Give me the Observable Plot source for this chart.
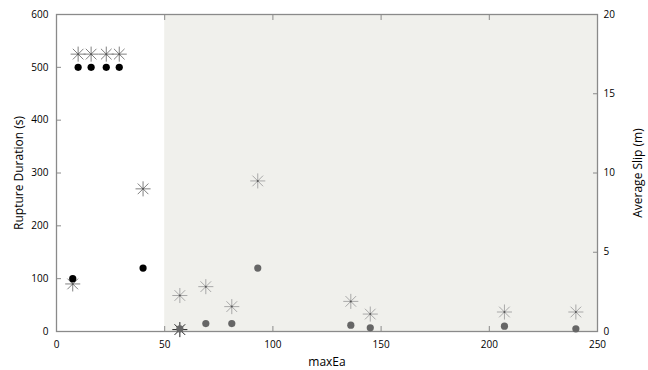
<!DOCTYPE html>
<html>
<head>
<meta charset="utf-8">
<script src="https://cdn.jsdelivr.net/npm/d3@7"></script>
<script src="https://cdn.jsdelivr.net/npm/@observablehq/plot@0.6"></script>
<style>
  html, body { margin: 0; padding: 0; background: #fff; }
</style>
</head>
<body>
<div id="chart"></div>
<script>
// Rupture duration (s) vs maxEa — dots (left axis)
const durX = [7.5, 10, 16, 23, 29, 40, 57, 69, 81, 93, 136, 145, 207, 240];
const durY = [100, 500, 500, 500, 500, 120, 5, 15, 15, 120, 12, 7, 10, 5];
// Average slip (m) vs maxEa — asterisks (right axis)
const slipX = [7.5, 10, 16, 23, 29, 40, 57, 57, 69, 81, 93, 136, 145, 207, 240];
const slipY = [3.0, 17.5, 17.5, 17.5, 17.5, 9.0, 2.27, 0.12, 2.83, 1.57, 9.5, 1.9, 1.1, 1.23, 1.23];
// Shaded range of maxEa
const shadeFrom = 50, shadeTo = 250;
// Axis ticks
const xTicks = [0, 50, 100, 150, 200, 250];
const leftTicks = [0, 100, 200, 300, 400, 500, 600];
const rightTicks = [0, 5, 10, 15, 20];
const leftMax = 600, rightMax = 20;
const k = leftMax / rightMax;

const durData = durX.map((x, i) => ({x, y: durY[i]}));
const slipData = slipX.map((x, i) => ({x, slip: slipY[i], y: slipY[i] * k}));

// 8-arm asterisk symbol
const asterisk8 = {
  draw(ctx, size) {
    const r = Math.sqrt(size) / 2;
    const d = r * Math.SQRT1_2;
    ctx.moveTo(-r, 0); ctx.lineTo(r, 0);
    ctx.moveTo(0, -r); ctx.lineTo(0, r);
    ctx.moveTo(-d, -d); ctx.lineTo(d, d);
    ctx.moveTo(-d, d); ctx.lineTo(d, -d);
  }
};

const axisColor = "#8a8a8a";

const chart = Plot.plot({
  width: 648,
  height: 370,
  marginLeft: 56,
  marginRight: 51,
  marginTop: 14,
  marginBottom: 39,
  style: {fontFamily: "'Open Sans', sans-serif", fontSize: "10px", color: "#000", background: "#fff"},
  x: {domain: [0, 250]},
  y: {domain: [0, leftMax]},
  marks: [
    Plot.rect([{x1: shadeFrom, x2: shadeTo}], {x1: "x1", x2: "x2", y1: 0, y2: leftMax, fill: "#f0f0ec"}),
    Plot.frame({stroke: axisColor, strokeWidth: 1.3}),
    Plot.axisX({ticks: xTicks, tickSize: -5, tickPadding: 14, stroke: axisColor, label: null}),
    Plot.axisX({ticks: [], label: "maxEa", labelAnchor: "center", labelArrow: "none", labelOffset: 34, fontSize: 12}),
    Plot.axisX({anchor: "top", ticks: xTicks, tickSize: -5, stroke: axisColor, tickFormat: () => "", label: null}),
    Plot.axisY({ticks: leftTicks, tickSize: -5, tickPadding: 13, stroke: axisColor, label: null}),
    Plot.axisY({ticks: [], label: "Rupture Duration (s)", labelAnchor: "center", labelArrow: "none", labelOffset: 42, fontSize: 12}),
    Plot.axisY({anchor: "right", ticks: rightTicks.map(v => v * k), tickFormat: d => d / k,
      tickSize: -5, tickPadding: 11, stroke: axisColor, label: null}),
    Plot.axisY({anchor: "right", ticks: [], label: "Average Slip (m)", labelAnchor: "center", labelArrow: "none", labelOffset: 44, fontSize: 12}),
    Plot.dot(slipData, {x: "x", y: "y", symbol: asterisk8, r: 8.5, strokeWidth: 1,
      stroke: d => d.slip < 0.5 ? "#222" : d.x < shadeFrom ? "#808080" : "#a8a8a8"}),
    Plot.dot(slipData, {x: "x", y: "y", r: 1, fill: "#555"}),
    Plot.dot(durData, {x: "x", y: "y", r: 3.6,
      fill: d => d.x < shadeFrom ? "#000" : "#666"})
  ]
});
document.getElementById("chart").appendChild(chart);
</script>
</body>
</html>
